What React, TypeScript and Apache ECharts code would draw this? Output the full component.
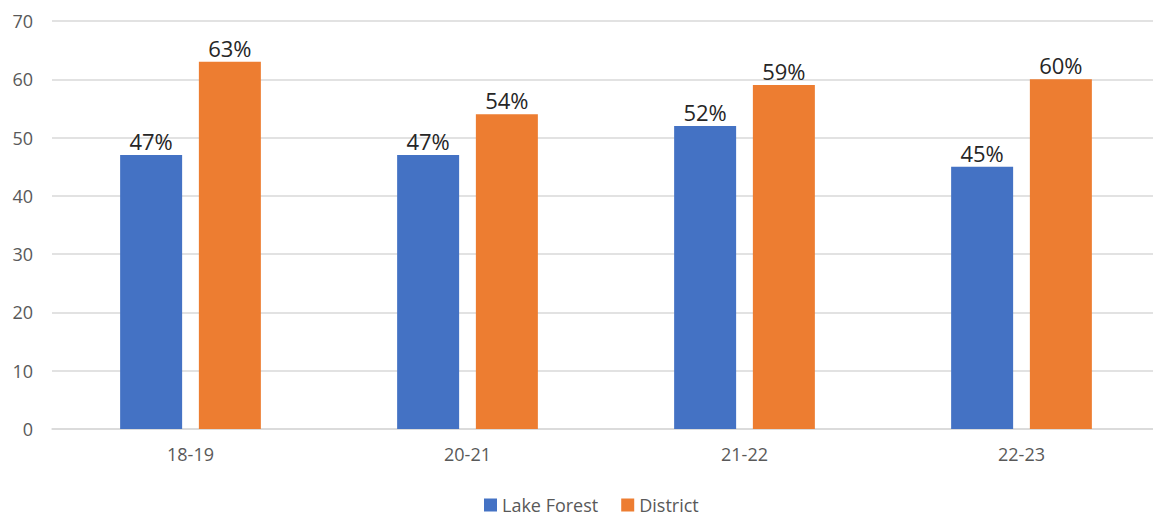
import React, { useEffect, useRef } from "react";
import * as echarts from "echarts";

const categories = ["18-19", "20-21", "21-22", "22-23"];
const lakeForest = [47, 47, 52, 45];
const district = [63, 54, 59, 60];
const yTicks = [0, 10, 20, 30, 40, 50, 60, 70];

export default function App() {
  const ref = useRef<HTMLDivElement>(null);
  useEffect(() => {
    if (!ref.current) return;
    const chart = echarts.init(ref.current, null, { renderer: "svg" });
    const font = "'Open Sans', 'Liberation Sans', sans-serif";
    const label = {
      show: true,
      position: "top",
      distance: 3,
      formatter: "{c}%",
      fontSize: 22,
      color: "#262626",
      fontFamily: font,
    };
    chart.setOption({
      animation: false,
      backgroundColor: "#ffffff",
      grid: { left: 52, width: 1108, top: 21, height: 408 },
      legend: {
        left: 484,
        top: 496,
        padding: 0,
        icon: "rect",
        itemWidth: 13,
        itemHeight: 13,
        itemGap: 23,
        textStyle: { fontSize: 18, lineHeight: 18, color: "#595959", fontFamily: font },
        data: ["Lake Forest", "District"],
      },
      xAxis: {
        type: "category",
        data: categories,
        axisTick: { show: false },
        axisLine: { lineStyle: { color: "#d9d9d9", width: 1.5 } },
        axisLabel: { fontSize: 18, color: "#595959", margin: 16, fontFamily: font },
      },
      yAxis: {
        type: "value",
        min: yTicks[0],
        max: yTicks[yTicks.length - 1],
        interval: 10,
        axisLine: { show: false },
        axisTick: { show: false },
        splitLine: { lineStyle: { color: "#d9d9d9", width: 1.5 } },
        axisLabel: { fontSize: 18, color: "#595959", margin: 19, fontFamily: font },
      },
      series: [
        {
          name: "Lake Forest",
          type: "bar",
          data: lakeForest,
          barWidth: 62,
          barGap: "27%",
          itemStyle: { color: "#4472C4" },
          label,
        },
        {
          name: "District",
          type: "bar",
          data: district,
          barWidth: 62,
          barGap: "27%",
          itemStyle: { color: "#ED7D31" },
          label,
        },
      ],
    });
    return () => chart.dispose();
  }, []);
  return (
    <div
      style={{
        position: "fixed",
        left: 0,
        top: 0,
        width: 1153,
        height: 517,
        overflow: "hidden",
      }}
    >
      <div ref={ref} style={{ width: 1162, height: 517 }} />
    </div>
  );
}
